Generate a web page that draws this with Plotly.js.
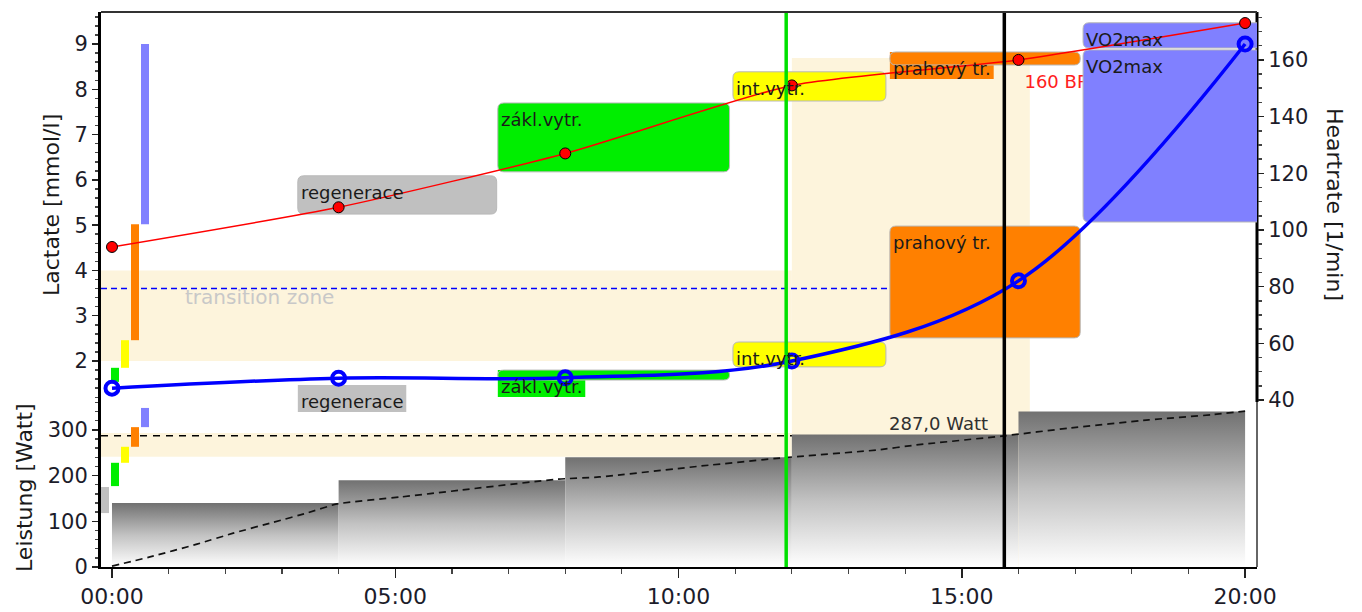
<!DOCTYPE html>
<html><head><meta charset="utf-8">
<script src="https://cdn.plot.ly/plotly-3.0.1.min.js"></script>
<style>html,body{margin:0;padding:0;background:#fff}</style>
</head><body><div id="chart" style="width:1362px;height:612px"></div>
<script>
// ---------------- data ----------------
const stageTimes = [0, 4, 8, 12, 16, 20];                 // minutes
const lactate    = [1.40, 1.62, 1.63, 2.00, 3.77, 9.00];  // mmol/l
const heartrate  = [94, 108, 127, 151, 160, 173];         // 1/min

const stepStart = [0, 4, 8, 12, 16];
const stepEnd   = [4, 8, 12, 16, 20];
const stepWatt  = [140, 190, 240, 290, 340];

const powerTrendT = [0, 0.67, 1.5, 2.14, 2.85, 3.44, 3.97, 5.08, 6.14, 7.86, 8.6, 10.4, 11.85, 13.5, 14.2, 15.75, 16.9, 18.3, 19.4, 20];
const powerTrendW = [2, 22, 50, 74, 98, 118, 138, 153, 168, 192, 197, 221, 239, 256, 267, 287, 304, 322, 333, 341];

const xTickVals = [0, 5, 10, 15, 20];
const xTickText = ['00:00', '05:00', '10:00', '15:00', '20:00'];

const zoneNames  = ['regenerace', 'zákl.vytr.', 'int.vytr.', 'prahový tr.', 'VO2max'];
const zoneColors = ['#c0c0c0', '#00ee00', '#ffff00', '#ff8000', '#8080ff'];
const zoneT0     = [3.28, 6.81, 10.96, 13.73, 17.14];
const zoneT1     = [6.79, 10.90, 13.66, 17.09, 20.32];
const zoneHRLow  = [105.6, 120.5, 145.5, 158.2, 164.2];
const zoneHRHigh = [119.1, 144.8, 155.8, 162.8, 173.1];
const zoneLacLow  = [1.47, 1.58, 1.87, 2.51, 5.07];
const zoneLacHigh = [1.47, 1.80, 2.42, 4.98, 8.87];
const lacZoneFrom = [null, 1.54, 1.85, 2.46, 5.02];
const lacZoneTo   = [null, 1.85, 2.46, 5.02, 9.00];
const powZoneFrom = [118, 177, 228, 263, 306];
const powZoneTo   = [175, 228, 263, 306, 348];

const transitionLac  = [2, 4];
const transitionMark = 3.6;
const transitionWatt = [241, 293];
const transitionTime = [12.0, 16.2];
const thresholdTime = 15.75;
const thresholdWatt = 287.0;
const thresholdHR = 160;
const markerTime = 11.9;

// ---------------- geometry ----------------
const M = {l: 101, r: 105, t: 12, b: 45};
const PW = 1362 - M.l - M.r, PH = 612 - M.t - M.b;
const split = 165 / PH;
const xRange = [-0.194, 20.21];
const lacRange = [1.095, 9.707];
const hrRange = [39.3, 176.9];
const powRange = [0, 361];
const pxMin = PW / (xRange[1] - xRange[0]);
const pxLac = PH * (1 - split) / (lacRange[1] - lacRange[0]);
const pxHR = PH * (1 - split) / (hrRange[1] - hrRange[0]);
const pxPow = PH * split / (powRange[1] - powRange[0]);
const FONT = 'DejaVu Sans';
const cream = '#fdf4dc';

const ctx = document.createElement('canvas').getContext('2d');
ctx.font = '18px "DejaVu Sans"';
const textW = s => ctx.measureText(s).width;

function roundRect(x0, x1, y0, y1, ppy, r) {
  const rx = Math.min(r / pxMin, (x1 - x0) / 2), ry = Math.min(r / ppy, (y1 - y0) / 2);
  return `M${x0 + rx},${y1} L${x1 - rx},${y1} Q${x1},${y1} ${x1},${y1 - ry} L${x1},${y0 + ry} Q${x1},${y0} ${x1 - rx},${y0} L${x0 + rx},${y0} Q${x0},${y0} ${x0},${y0 + ry} L${x0},${y1 - ry} Q${x0},${y1} ${x0 + rx},${y1} Z`;
}

// ---------------- traces ----------------
const traces = [];
for (let i = 0; i < stepWatt.length; i++) {
  traces.push({
    type: 'scatter', xaxis: 'x', yaxis: 'y2', mode: 'lines', hoverinfo: 'skip',
    x: [stepStart[i], stepStart[i], stepEnd[i], stepEnd[i]],
    y: [0, stepWatt[i], stepWatt[i], 0],
    fill: 'toself', line: {width: 0, color: 'rgba(0,0,0,0)'},
    fillgradient: {type: 'vertical', colorscale: [[0, '#ffffff'], [0.5, '#c2c2c2'], [1, '#717171']]}
  });
}
traces.push({
  type: 'scatter', xaxis: 'x', yaxis: 'y2', mode: 'lines', hoverinfo: 'skip',
  x: powerTrendT, y: powerTrendW,
  line: {color: '#111', width: 1.7, dash: '7px,5px', shape: 'spline', smoothing: 0.5}
});
traces.push({
  type: 'scatter', xaxis: 'x', yaxis: 'y', mode: 'lines+markers',
  x: stageTimes, y: lactate,
  line: {color: '#0000ff', width: 3.5, shape: 'spline', smoothing: 1},
  marker: {symbol: 'circle-open', size: 13, color: '#0000ff', line: {width: 4}}
});
traces.push({
  type: 'scatter', xaxis: 'x', yaxis: 'y3', mode: 'lines+markers',
  x: stageTimes, y: heartrate,
  line: {color: '#ff0000', width: 1.5, shape: 'spline', smoothing: 0.6},
  marker: {symbol: 'circle', size: 11, color: '#ff0000', line: {color: '#000', width: 1}}
});

// ---------------- shapes ----------------
const shapes = [];
// bands
shapes.push({type: 'rect', layer: 'below', xref: 'x', yref: 'paper', x0: transitionTime[0], x1: transitionTime[1],
  y0: 0, y1: (PH - 46) / PH, fillcolor: cream, line: {width: 0}});
shapes.push({type: 'rect', layer: 'below', xref: 'x', yref: 'y', x0: xRange[0], x1: transitionTime[0],
  y0: transitionLac[0], y1: transitionLac[1], fillcolor: cream, line: {width: 0}});
shapes.push({type: 'rect', layer: 'below', xref: 'x', yref: 'y2', x0: xRange[0], x1: transitionTime[0],
  y0: transitionWatt[0], y1: transitionWatt[1], fillcolor: cream, line: {width: 0}});
shapes.push({type: 'line', layer: 'below', xref: 'x', yref: 'y', x0: xRange[0], x1: zoneT0[3],
  y0: transitionMark, y1: transitionMark, line: {color: '#0000ff', width: 1.5, dash: '6px,4px'}});
shapes.push({type: 'line', layer: 'below', xref: 'x', yref: 'y2', x0: xRange[0], x1: thresholdTime,
  y0: thresholdWatt, y1: thresholdWatt, line: {color: '#000', width: 1.5, dash: '7px,6px'}});
// right (heart rate) axis line, below the zone boxes
shapes.push({type: 'line', layer: 'below', xref: 'paper', yref: 'paper', x0: 1, x1: 1, y0: split, y1: 1,
  line: {color: '#000', width: 3}});
// 160 BPM label (lies under the VO2max box)
const hrToLac = h => lacRange[0] + (h - hrRange[0]) * pxHR / pxLac;
const bpmY = hrToLac(heartrate[4]) - 21 / pxLac;
shapes.push({type: 'rect', layer: 'below', xref: 'x', yref: 'y', x0: stageTimes[4], x1: stageTimes[4] + 40 / pxMin,
  y0: bpmY - 6 / pxLac, y1: bpmY + 6 / pxLac, fillcolor: 'rgba(255,255,255,0)', line: {width: 0, color: 'rgba(0,0,0,0)'},
  label: {text: thresholdHR + ' BPM', textposition: 'middle left', padding: 3, font: {family: FONT, size: 18, color: '#ff2020'}}});

const annotations = [];
function toPaper(yref, v) {
  return yref === 'y3'
    ? split + (v - hrRange[0]) * pxHR / PH
    : split + (v - lacRange[0]) * pxLac / PH;
}
function zoneBox(i, yref, lo, hi, ppy) {
  const hpx = (hi - lo) * ppy;
  if (hpx < 22) {
    const top = toPaper(yref, hi);
    shapes.push({type: 'rect', layer: 'below', xref: 'x', yref: 'paper',
      x0: zoneT0[i], x1: zoneT0[i] + (textW(zoneNames[i]) + 6) / pxMin,
      y0: top - 27 / PH, y1: top, fillcolor: zoneColors[i], line: {width: 0}});
  }
  if (hpx > 1) {
    shapes.push({type: 'path', layer: 'below', xref: 'x', yref: yref,
      path: roundRect(zoneT0[i], zoneT1[i], lo, hi, ppy, 6),
      fillcolor: zoneColors[i], line: {color: '#b8b8b8', width: 1}});
  }
  annotations.push({xref: 'x', yref: yref, x: zoneT0[i], y: hi, xanchor: 'left', yanchor: 'top',
    xshift: 1, yshift: -4, showarrow: false, text: zoneNames[i],
    font: {family: FONT, size: 18, color: '#1a1a1a'}});
}
for (let i = 0; i < zoneNames.length; i++) {
  zoneBox(i, 'y3', zoneHRLow[i], zoneHRHigh[i], pxHR);
  zoneBox(i, 'y', zoneLacLow[i], zoneLacHigh[i], pxLac);
}
// axis zone indicator bars
for (let i = 0; i < zoneNames.length; i++) {
  const x0 = xRange[0] + (i * 10) / pxMin, x1 = x0 + 8 / pxMin;
  if (lacZoneFrom[i] !== null) {
    shapes.push({type: 'rect', layer: 'below', xref: 'x', yref: 'y', x0, x1,
      y0: lacZoneFrom[i], y1: lacZoneTo[i], fillcolor: zoneColors[i], line: {width: 0}});
  }
  shapes.push({type: 'rect', layer: 'below', xref: 'x', yref: 'y2', x0, x1,
    y0: powZoneFrom[i], y1: powZoneTo[i], fillcolor: zoneColors[i], line: {width: 0}});
}
// vertical markers and frame
shapes.push({type: 'line', layer: 'above', xref: 'x', yref: 'paper', x0: markerTime, x1: markerTime, y0: 0, y1: 1,
  line: {color: '#00e000', width: 3.5}});
shapes.push({type: 'line', layer: 'above', xref: 'x', yref: 'paper', x0: thresholdTime, x1: thresholdTime, y0: 0, y1: 1,
  line: {color: '#000', width: 3.5}});
shapes.push({type: 'line', layer: 'above', xref: 'paper', yref: 'paper', x0: 0, x1: 1, y0: 1, y1: 1,
  line: {color: '#333', width: 2}});
shapes.push({type: 'line', layer: 'above', xref: 'paper', yref: 'paper', x0: 1, x1: 1, y0: 0, y1: split,
  line: {color: '#333', width: 1.5}});

// ---------------- annotations ----------------
annotations.push({xref: 'x', yref: 'y', x: 1.25, y: 3.41, xanchor: 'left', yanchor: 'middle', showarrow: false,
  text: 'transition zone', font: {family: FONT, size: 20, color: '#c8c8c8'}});
annotations.push({xref: 'x', yref: 'y2', x: thresholdTime, y: thresholdWatt, xanchor: 'right', yanchor: 'bottom',
  xshift: -14, yshift: 0, showarrow: false, text: thresholdWatt.toFixed(1).replace('.', ',') + ' Watt',
  font: {family: FONT, size: 18, color: '#303030'}});
annotations.push({xref: 'paper', yref: 'paper', x: 0, y: (PH - 193) / PH, xshift: -50, xanchor: 'center', yanchor: 'middle',
  textangle: -90, showarrow: false, text: 'Lactate [mmol/l]', font: {family: FONT, size: 22, color: '#1a1a1a'}});
annotations.push({xref: 'paper', yref: 'paper', x: 0, y: (PH - 476) / PH, xshift: -77, xanchor: 'center', yanchor: 'middle',
  textangle: -90, showarrow: false, text: 'Leistung [Watt]', font: {family: FONT, size: 22, color: '#1a1a1a'}});
annotations.push({xref: 'paper', yref: 'paper', x: 1, y: (PH - 192) / PH, xshift: 78, xanchor: 'center', yanchor: 'middle',
  textangle: 90, showarrow: false, text: 'Heartrate [1/min]', font: {family: FONT, size: 22, color: '#1a1a1a'}});

// ---------------- layout ----------------
const minorX = [];
for (let t = 0; t <= 20; t++) if (t % 5 !== 0) minorX.push(t);
const tickCommon = {ticks: 'outside', tickwidth: 1.5, tickcolor: '#222', showgrid: false, zeroline: false,
  tickfont: {family: FONT, size: 21, color: '#1c1c2a'}};

const layout = {
  width: 1362, height: 612, margin: M, showlegend: false,
  paper_bgcolor: '#ffffff', plot_bgcolor: 'rgba(0,0,0,0)',
  font: {family: FONT, color: '#1c1c2a'},
  xaxis: Object.assign({}, tickCommon, {
    range: xRange, anchor: 'y2', tickmode: 'array', tickvals: xTickVals, ticktext: xTickText,
    showline: true, linewidth: 2, linecolor: '#000', ticklen: 9,
    tickfont: {family: FONT, size: 22, color: '#1c1c2a'},
    minor: {tickmode: 'array', tickvals: minorX, ticks: 'outside', ticklen: 5, tickcolor: '#444', tickwidth: 1.2}
  }),
  yaxis: Object.assign({}, tickCommon, {
    domain: [split, 1], range: lacRange, anchor: 'x', tickmode: 'linear', tick0: 0, dtick: 1,
    showline: true, linewidth: 3, linecolor: '#000', ticklen: 6,
    minor: {tickmode: 'linear', tick0: 0, dtick: 0.2, ticks: 'outside', ticklen: 3, tickcolor: '#444'}
  }),
  yaxis2: Object.assign({}, tickCommon, {
    domain: [0, split], range: powRange, anchor: 'x', tickmode: 'linear', tick0: 0, dtick: 100,
    showline: true, linewidth: 3, linecolor: '#000', ticklen: 6,
    minor: {tickmode: 'linear', tick0: 0, dtick: 20, ticks: 'outside', ticklen: 3, tickcolor: '#444'}
  }),
  yaxis3: Object.assign({}, tickCommon, {
    overlaying: 'y', side: 'right', anchor: 'x', range: hrRange, tickmode: 'linear', tick0: 0, dtick: 20,
    showline: false, ticklen: 6,
    minor: {tickmode: 'linear', tick0: 0, dtick: 5, ticks: 'outside', ticklen: 4, tickcolor: '#444'}
  }),
  shapes: shapes,
  annotations: annotations
};

Plotly.newPlot('chart', traces, layout, {staticPlot: true, displayModeBar: false});
</script>
</body></html>
